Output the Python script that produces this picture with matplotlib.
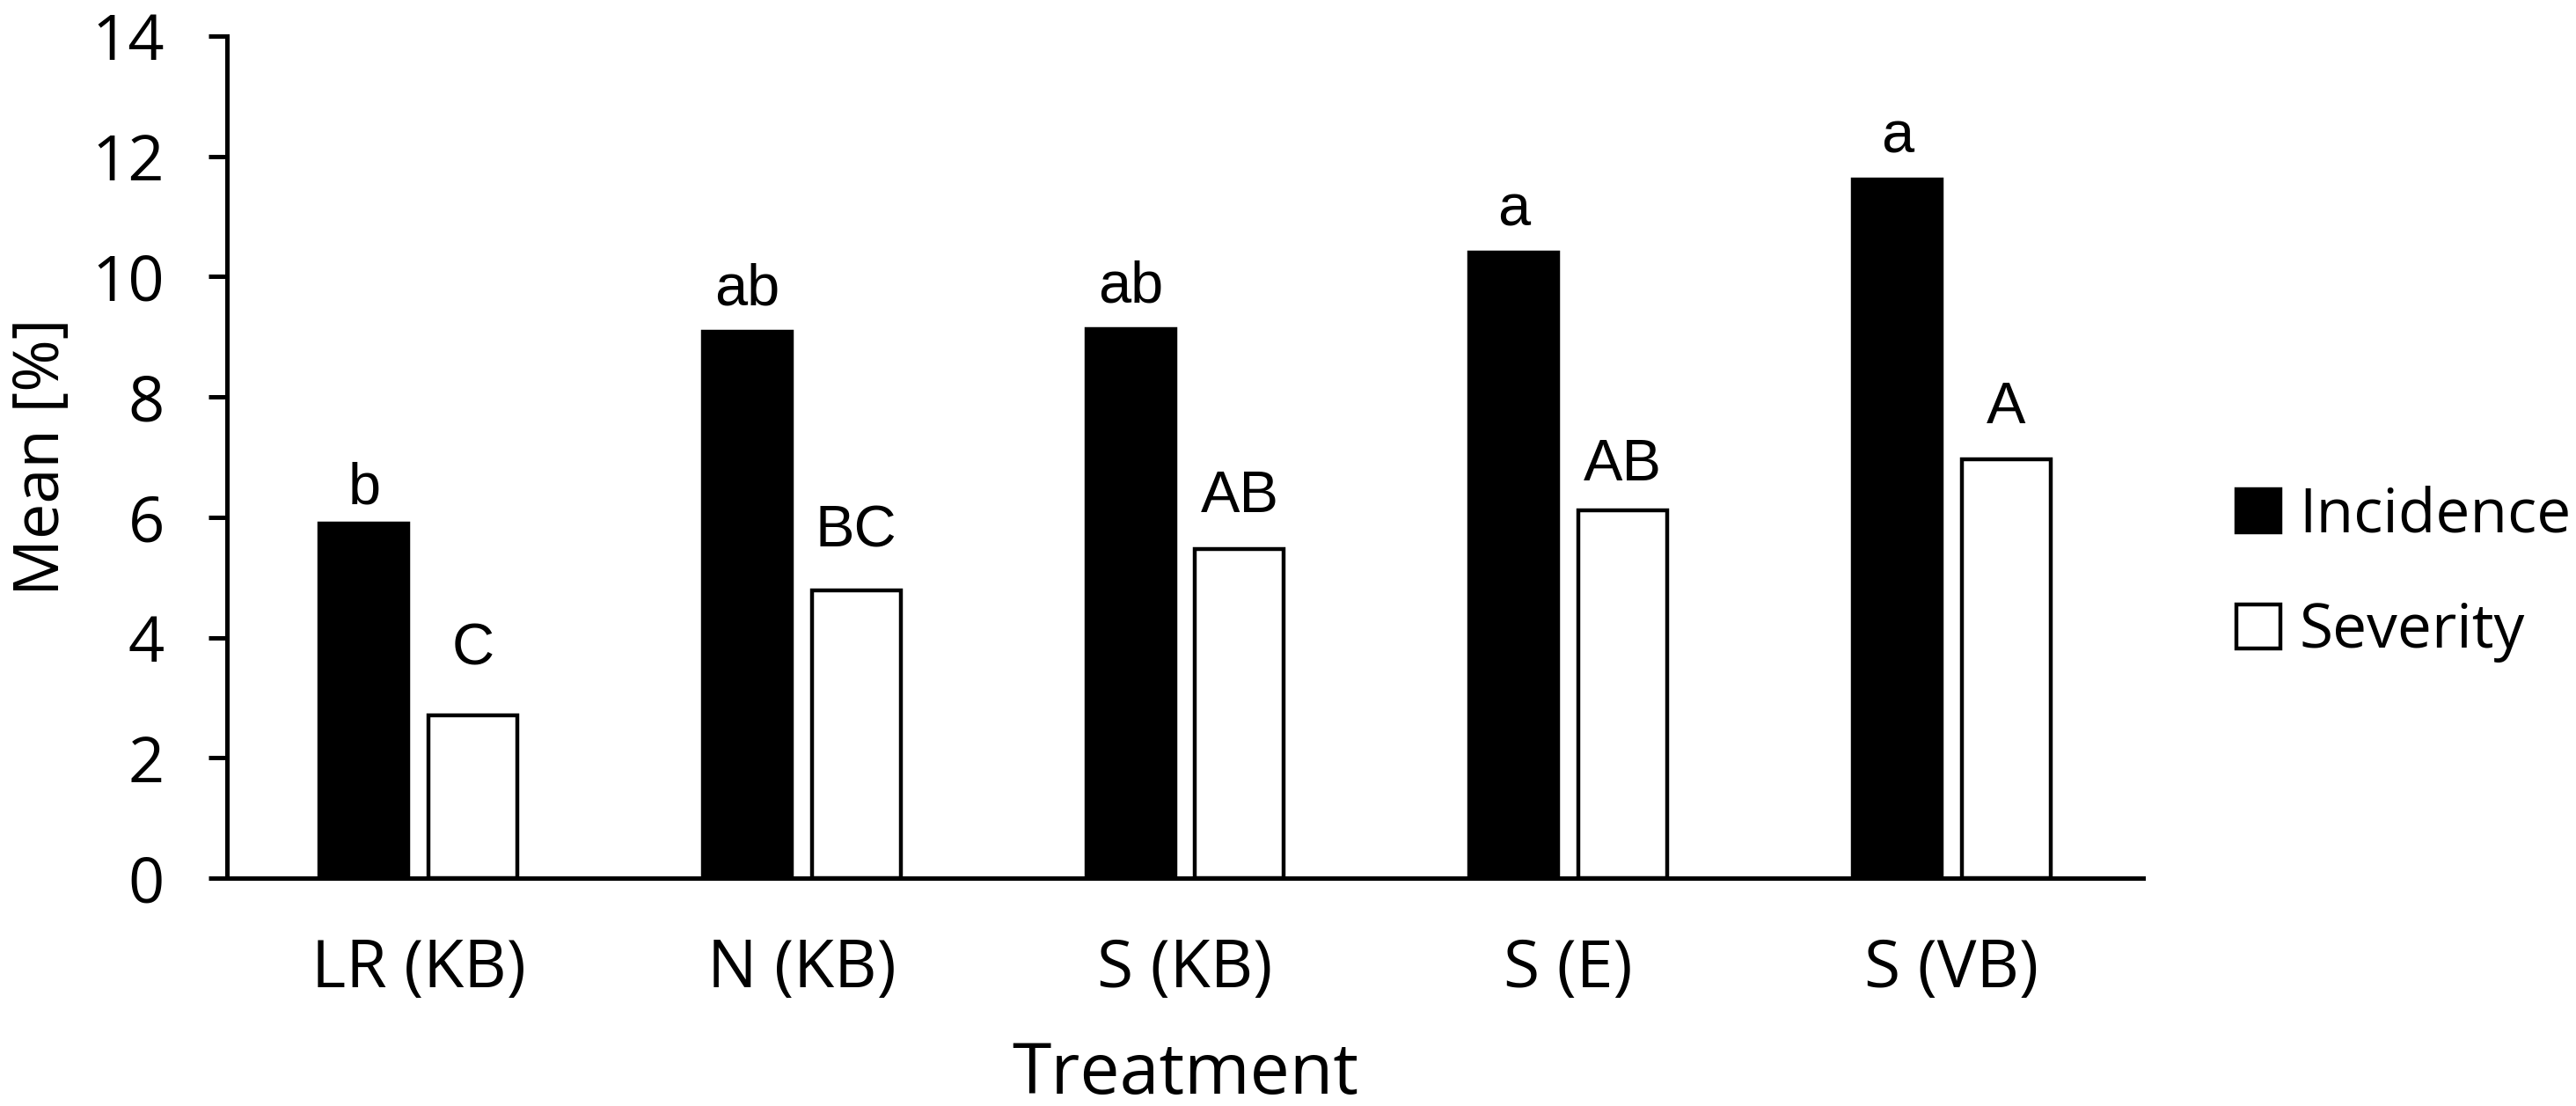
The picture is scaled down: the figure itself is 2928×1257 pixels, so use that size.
import matplotlib
matplotlib.use("Agg")
import matplotlib.pyplot as plt
import numpy as np

treatments = ["LR (KB)", "N (KB)", "S (KB)", "S (E)", "S (VB)"]
incidence = [5.9, 9.08, 9.13, 10.4, 11.62]
severity = [2.7, 4.78, 5.47, 6.12, 6.96]
inc_letters = ["b", "ab", "ab", "a", "a"]
sev_letters = ["C", "BC", "AB", "AB", "A"]
# gap above each bar for the letters (points)
inc_pad = [8, 11, 11, 11, 11]
sev_pad = [21, 18, 15, 12, 15]

plt.rcParams['font.family'] = ['Open Sans', 'DejaVu Sans']

fig = plt.figure(figsize=(14.64, 6.285), dpi=200)
ax = fig.add_axes([0.0881, 0.206, 0.832 - 0.0881, 0.9674 - 0.206])

x = np.arange(len(treatments))
w = 0.232
off = 0.142
ax.bar(x - off, incidence, w, color='black', edgecolor='black', linewidth=1.6, label='Incidence')
ax.bar(x + off, severity, w, color='white', edgecolor='black', linewidth=1.6, label='Severity')

for i in range(len(treatments)):
    ax.annotate(inc_letters[i], (x[i] - off, incidence[i]), xytext=(0, inc_pad[i]), textcoords='offset points',
                ha='center', va='baseline', fontsize=24, family='Liberation Sans')
    ax.annotate(sev_letters[i], (x[i] + off, severity[i]), xytext=(0, sev_pad[i]), textcoords='offset points',
                ha='center', va='baseline', fontsize=24, family='Liberation Sans')

ax.set_xlim(-0.5, len(treatments) - 0.5)
ax.set_ylim(0, 14)
ax.set_yticks(range(0, 15, 2))
ax.set_xticks(x)
ax.set_xticklabels(treatments)

for s in ['top', 'right']:
    ax.spines[s].set_visible(False)
for s in ['left', 'bottom']:
    ax.spines[s].set_linewidth(1.8)

ax.tick_params(axis='y', direction='out', length=7.6, width=1.8, pad=18, labelsize=26)
ax.tick_params(axis='x', length=0, pad=24, labelsize=27)

ax.set_xlabel('Treatment', fontsize=29, labelpad=15)
ax.set_ylabel('Mean [%]', fontsize=26)
ax.yaxis.set_label_coords(-0.08, 0.5)

ax.legend(loc='center left', bbox_to_anchor=(0.868, 0.481), bbox_transform=fig.transFigure,
          frameon=False, fontsize=25, handlelength=0.73, handleheight=0.71, handletextpad=0.3,
          labelspacing=0.89, borderpad=0, borderaxespad=0)

fig.savefig('out.png', dpi=200)
